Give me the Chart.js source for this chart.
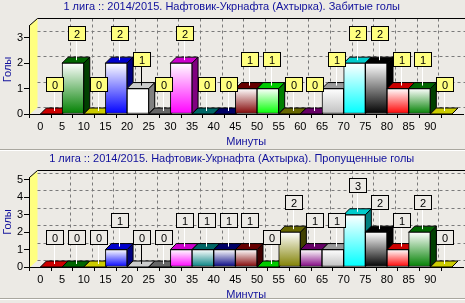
<!DOCTYPE html>
<html>
<head>
<meta charset="utf-8">
<script src="https://cdn.jsdelivr.net/npm/chart.js@4.4.1/dist/chart.umd.min.js"></script>
<style>
  body { margin: 0; background: #ECEAE5; width: 465px; height: 303px; overflow: hidden; position: relative; }
  canvas { position: absolute; left: 0; }
  #scored { top: 0; }
  #conceded { top: 150px; }
  .sep { position: absolute; left: 0; width: 465px; height: 1px; }
</style>
</head>
<body>
<canvas id="scored" width="465" height="149"></canvas>
<canvas id="conceded" width="465" height="153"></canvas>
<div class="sep" style="top:149px;background:#A9A79F"></div>
<div class="sep" style="top:150px;background:#FFFFFF"></div>
<div class="sep" style="top:298px;background:#A9A79F"></div>
<div class="sep" style="top:299px;background:#FFFFFF"></div>
<script>
// начало каждого 5-минутного отрезка
const minuteStarts = [0, 5, 10, 15, 20, 25, 30, 35, 40, 45, 50, 55, 60, 65, 70, 75, 80, 85, 90];
const scoredGoals   = [0, 2, 0, 2, 1, 0, 2, 0, 0, 1, 1, 0, 0, 1, 2, 2, 1, 1, 0];
const concededGoals = [0, 0, 0, 1, 0, 0, 1, 1, 1, 1, 0, 2, 1, 1, 3, 2, 1, 2, 0];
const xTickLabels = [0, 5, 10, 15, 20, 25, 30, 35, 40, 45, 50, 55, 60, 65, 70, 75, 80, 85, 90];
const yTicksScored = [0, 1, 2, 3];
const yTicksConceded = [0, 1, 2, 3, 4, 5];
const barColors = ['#FF0000', '#008000', '#FFFF00', '#0000FF', '#FFFFFF', '#808080', '#FF00FF',
                   '#008080', '#000080', '#800000', '#00FF00', '#808000', '#800080', '#C0C0C0',
                   '#00FFFF', '#000000', '#FF0000', '#008000', '#FFFF00'];
const titleScored = '1 лига :: 2014/2015. Нафтовик-Укрнафта (Ахтырка). Забитые голы';
const titleConceded = '1 лига :: 2014/2015. Нафтовик-Укрнафта (Ахтырка). Пропущенные голы';

const FONT = "'Liberation Sans', Arial, sans-serif";
const BLUE = '#10109C';
const DX = 6, DY = 6;   // глубина столбиков
const WX = 8, WY = 7;   // глубина стенок

Chart.defaults.font.family = FONT;
Chart.defaults.font.size = 11;
Chart.defaults.color = '#000';

function shade(hex, f) {
    const n = parseInt(hex.slice(1), 16);
    const r = Math.round(((n >> 16) & 255) * f);
    const g = Math.round(((n >> 8) & 255) * f);
    const b = Math.round((n & 255) * f);
    return 'rgb(' + r + ',' + g + ',' + b + ')';
}

function poly(ctx, pts, fill) {
    ctx.beginPath();
    ctx.moveTo(pts[0][0], pts[0][1]);
    for (let i = 1; i < pts.length; i++) ctx.lineTo(pts[i][0], pts[i][1]);
    ctx.closePath();
    ctx.fillStyle = fill;
    ctx.fill();
    ctx.stroke();
}

function line(ctx, x1, y1, x2, y2) {
    ctx.beginPath();
    ctx.moveTo(x1, y1);
    ctx.lineTo(x2, y2);
    ctx.stroke();
}

// стенки, сетка, 3D-столбики и метки в духе TeeChart
const tee3d = {
    id: 'tee3d',
    beforeDatasetsDraw(chart) {
        const {ctx, chartArea: a, scales: {x, y}} = chart;
        const L = Math.round(a.left) + 0.5, T = Math.round(a.top) + 0.5, B = Math.round(a.bottom) + 0.5;
        ctx.save();
        ctx.lineWidth = 1;
        // левая стенка
        ctx.strokeStyle = 'rgba(0,0,0,0)';
        poly(ctx, [[L, B], [L, T], [L + WX, T - WY], [L + WX, B - WY]], '#FFFF80');
        // пунктирная сетка на задней стенке
        ctx.strokeStyle = '#7A7A7A';
        ctx.setLineDash([3, 3]);
        y.ticks.forEach(t => {
            const py = Math.round(y.getPixelForValue(t.value) - WY) + 0.5;
            line(ctx, L + WX, py, chart.width, py);
        });
        x.ticks.forEach(t => {
            if (t.value === 0) return;
            const px = Math.round(x.getPixelForValue(t.value) + WX) + 0.5;
            line(ctx, px, T - WY, px, B - WY);
        });
        ctx.setLineDash([]);
        ctx.strokeStyle = '#000';
        line(ctx, L + WX, T - WY, chart.width, T - WY);
        line(ctx, L, T, L + WX, T - WY);
        line(ctx, L, B, L, T);
        ctx.restore();
    },
    beforeDatasetDraw() {
        return false;
    },
    afterDatasetsDraw(chart, args, opts) {
        const ctx = chart.ctx;
        const meta = chart.getDatasetMeta(0);
        const ds = chart.data.datasets[0];
        ctx.save();
        ctx.lineWidth = 1;
        ctx.strokeStyle = '#000';
        meta.data.forEach((bar, i) => {
            const p = bar.getProps(['x', 'y', 'base', 'width'], true);
            const l = p.x - p.width / 2, r = p.x + p.width / 2, t = p.y, b = p.base;
            const c = barColors[i];
            ctx.strokeStyle = '#000';
            poly(ctx, [[r, t], [r + DX, t - DY], [r + DX, b - DY], [r, b]], shade(c, 0.5));
            poly(ctx, [[l, t], [l + DX, t - DY], [r + DX, t - DY], [r, t]], shade(c, 0.8));
            bar.draw(ctx, chart.chartArea);
        });
        // метки со значениями
        ctx.font = '11px ' + FONT;
        ctx.textAlign = 'center';
        ctx.textBaseline = 'middle';
        meta.data.forEach((bar, i) => {
            const p = bar.getProps(['x', 'y'], true);
            const txt = String(ds.data[i].y);
            const cx = Math.round(p.x + DX / 2) + 0.5, cy = p.y - DY / 2;
            const bw = Math.round(ctx.measureText(txt).width) + 11, bh = 14;
            const bx = Math.round(cx - bw / 2) + 0.5, by = Math.round(cy - 27 - bh / 2) + 0.5;
            ctx.strokeStyle = barColors[i] === '#FFFFFF' ? '#000' : '#FFF';
            line(ctx, cx, by + bh, cx, cy);
            ctx.fillStyle = opts.markFill;
            ctx.fillRect(bx, by, bw, bh);
            ctx.strokeStyle = '#000';
            ctx.strokeRect(bx, by, bw, bh);
            ctx.fillStyle = '#000';
            ctx.fillText(txt, bx + bw / 2, by + bh / 2 + 1);
        });
        ctx.restore();
    }
};

function makeChart(id, values, yTicks, yMax, title, o) {
    const points = minuteStarts.map((m, i) => ({x: m + 2.5, y: values[i]}));
    return new Chart(document.getElementById(id), {
        type: 'bar',
        data: {
            datasets: [{
                data: points,
                barPercentage: 1,
                categoryPercentage: 1,
                borderColor: '#000',
                borderWidth: 1,
                borderSkipped: false,
                backgroundColor: (c) => {
                    const col = barColors[c.dataIndex];
                    const ch = c.chart;
                    if (c.type !== 'data' || !ch.chartArea) return col;
                    const top = ch.scales.y.getPixelForValue(c.raw.y);
                    const bottom = ch.scales.y.getPixelForValue(0);
                    if (!isFinite(top) || !isFinite(bottom) || bottom - top < 1) return col;
                    const g = ch.ctx.createLinearGradient(0, top, 0, bottom);
                    g.addColorStop(0, '#FFFFFF');
                    g.addColorStop(1, col);
                    return g;
                }
            }]
        },
        options: {
            responsive: false,
            animation: false,
            events: [],
            layout: {padding: {left: 0, right: 1.6, top: 0, bottom: 0}},
            plugins: {
                legend: {display: false},
                tooltip: {enabled: false},
                title: {
                    display: true,
                    text: title,
                    color: BLUE,
                    font: {family: FONT, size: 11, weight: 'normal'},
                    padding: {top: o.titleTop, bottom: o.titleBottom}
                },
                tee3d: {markFill: o.markFill}
            },
            scales: {
                x: {
                    type: 'linear',
                    min: 0,
                    max: 95,
                    afterBuildTicks: s => { s.ticks = xTickLabels.map(v => ({value: v})); },
                    afterFit: s => { s.height = o.xHeight; },
                    grid: {drawOnChartArea: false, drawTicks: true, tickLength: 4, color: '#000'},
                    border: {display: true, color: '#000'},
                    ticks: {padding: o.xLabelPad, maxRotation: 0, autoSkip: false, font: {size: 11}},
                    title: {display: true, text: 'Минуты', color: BLUE, font: {size: 11}, padding: {top: 0, bottom: o.xTitlePad}}
                },
                y: {
                    min: 0,
                    max: yMax,
                    afterBuildTicks: s => { s.ticks = yTicks.map(v => ({value: v})); },
                    afterFit: s => { s.width = 29; },
                    grid: {drawOnChartArea: false, drawTicks: true, tickLength: 5, color: '#000'},
                    border: {display: true, color: '#000'},
                    ticks: {padding: 1, font: {size: 11}},
                    title: {display: true, text: 'Голы', color: BLUE, font: {size: 11}, padding: {top: 1.5, bottom: 0}}
                }
            }
        },
        plugins: [tee3d]
    });
}

makeChart('scored', scoredGoals, yTicksScored, 3.5, titleScored,
    {titleTop: 0.4, titleBottom: 11.4, xHeight: 35, xLabelPad: 2, xTitlePad: 0.7, markFill: '#FFFF80'});
makeChart('conceded', concededGoals, yTicksConceded, 5.17, titleConceded,
    {titleTop: 2.4, titleBottom: 11.4, xHeight: 36, xLabelPad: 2.4, xTitlePad: 1.4, markFill: '#ECEAE5'});
</script>
</body>
</html>
